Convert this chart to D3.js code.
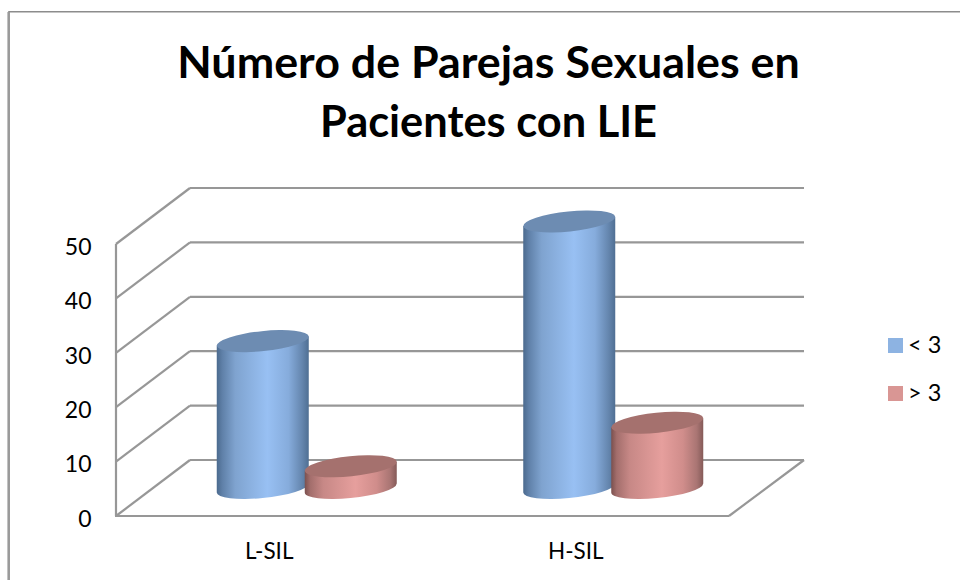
<!DOCTYPE html>
<html><head><meta charset="utf-8">
<script src="https://cdnjs.cloudflare.com/ajax/libs/d3/7.8.5/d3.min.js"></script>
<style>html,body{margin:0;padding:0;background:#fff}svg{display:block}text{font-family:Lato,"Open Sans",sans-serif;fill:#000}</style>
</head><body><svg id="c" width="960" height="580"></svg>
<script>
const titleLines = ["Número de Parejas Sexuales en", "Pacientes con LIE"];
const categories = ["L-SIL", "H-SIL"];
const seriesNames = ["< 3", "> 3"];
const lessThan3 = [27, 49];
const moreThan3 = [4, 12];
const yTicks = [0, 10, 20, 30, 40, 50];

const svg = d3.select("#c");
const depthX = 74;
const yFront = d3.scaleLinear().domain([0, 50]).range([516, 244]);
const yBack = d3.scaleLinear().domain([0, 50]).range([460, 188]);
const yMid = v => (yFront(v) + yBack(v)) / 2;
const xFront = d3.scaleBand().domain(categories).range([116, 729]);
const xMid = c => xFront(c) + xFront.bandwidth() / 2 + depthX / 2 + 0.5;
const seriesOffset = [-44, 44];

// frame
svg.append("path").attr("d", "M9,580V11.7H960").attr("fill", "none").attr("stroke", "#8c8c8c").attr("stroke-width", 1.6);
svg.append("line").attr("x1", 8.6).attr("x2", 8.6).attr("y1", 12).attr("y2", 580).attr("stroke", "#9a9a9a").attr("stroke-width", 2.4);

// title
const titleSize = [44.8, 43.4];
svg.selectAll(".t").data(titleLines).join("text").attr("class", "t")
  .attr("x", 488.5).attr("y", (d, i) => 78 + i * 58.5)
  .attr("text-anchor", "middle").attr("font-size", (d, i) => titleSize[i]).attr("font-weight", 700).text(d => d);

// walls and grid
const gridColor = "#979797";
const grid = svg.append("g").attr("fill", "none").attr("stroke", gridColor).attr("stroke-width", 2.2);
yTicks.forEach(t => {
  grid.append("line").attr("x1", 116).attr("y1", yFront(t)).attr("x2", 116 + depthX).attr("y2", yBack(t));
  grid.append("line").attr("x1", 116 + depthX).attr("y1", yBack(t)).attr("x2", 729 + depthX + 1).attr("y2", yBack(t));
});
grid.append("line").attr("x1", 116).attr("y1", yFront(0)).attr("x2", 116).attr("y2", yFront(50));
grid.append("line").attr("x1", 115).attr("y1", yFront(0)).attr("x2", 729).attr("y2", yFront(0));
grid.append("line").attr("x1", 729).attr("y1", yFront(0)).attr("x2", 804).attr("y2", yBack(0));

// axes (labels only)
const yAxis = svg.append("g").attr("transform", "translate(97.5,3)")
  .call(d3.axisLeft(yFront).tickValues(yTicks).tickSize(0).tickPadding(6));
yAxis.select(".domain").remove();
yAxis.selectAll("text").attr("font-size", 23).style("font-family", "Lato");
const xAxis = svg.append("g").attr("transform", "translate(0,543)")
  .call(d3.axisBottom(xFront).tickSize(0).tickPadding(0));
xAxis.select(".domain").remove();
xAxis.selectAll("text").attr("font-size", 22.5).style("font-family", "Lato");

// gradients
const defs = svg.append("defs");
function gradient(id, stops) {
  const g = defs.append("linearGradient").attr("id", id);
  stops.forEach(s => g.append("stop").attr("offset", s[0]).attr("stop-color", s[1]));
}
gradient("gBlue", [[0, "#4b6a8e"], [0.06, "#5f80a8"], [0.2, "#7fa3cf"], [0.55, "#98c0f3"], [0.78, "#86acdc"], [0.93, "#6485ad"], [1, "#4f6f93"]]);
gradient("gRed", [[0, "#7b504e"], [0.06, "#a36e6c"], [0.2, "#c78886"], [0.55, "#e69f9d"], [0.78, "#d08d8b"], [0.93, "#a97573"], [1, "#855a58"]]);
const colors = [{ body: "url(#gBlue)", top: "#6d8cb2", key: "#8db3e2" }, { body: "url(#gRed)", top: "#a5716e", key: "#d99694" }];

// cylinders
const a = 46.2, b = 10, rot = -5.9, halfW = 46, tilt = 4.5;
function drawCylinder(g, cx, value, col) {
  const base = yMid(0), top = yMid(value);
  g.append("path").attr("fill", col.body).attr("d",
    `M${cx - halfW},${top + tilt}V${base + tilt}` +
    `A${a},${b} ${rot} 0 0 ${cx + halfW},${base - tilt}` +
    `V${top - tilt}Z`);
  g.append("ellipse").attr("cx", 0).attr("cy", 0).attr("rx", a).attr("ry", b)
    .attr("transform", `translate(${cx},${top}) rotate(${rot})`).attr("fill", col.top);
}
const bars = svg.append("g");
[lessThan3, moreThan3].forEach((vals, s) => {
  categories.forEach((c, i) => drawCylinder(bars, xMid(c) + seriesOffset[s], vals[i], colors[s]));
});

// legend
const legend = svg.selectAll(".lg").data(seriesNames).join("g").attr("class", "lg")
  .attr("transform", (d, i) => `translate(888,${338 + i * 48})`);
legend.append("rect").attr("width", 15).attr("height", 15).attr("fill", (d, i) => colors[i].key);
legend.append("text").attr("x", 20).attr("y", 15).attr("font-size", 23.5).text(d => d);
</script></body></html>
